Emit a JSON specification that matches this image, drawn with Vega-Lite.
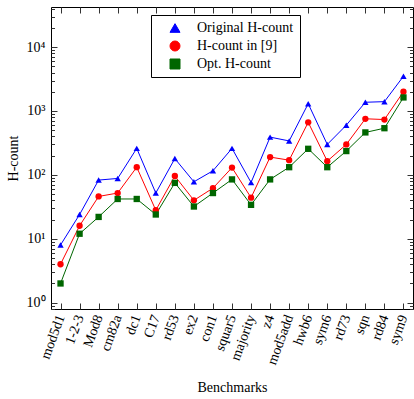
{
  "$schema": "https://vega.github.io/schema/vega-lite/v6.json",
  "width": 362,
  "height": 302,
  "autosize": {"type": "none"},
  "padding": {"left": 51, "top": 7, "right": 1, "bottom": 90},
  "background": "white",
  "config": {
    "view": {"stroke": "black", "strokeWidth": 1},
    "font": "Liberation Serif",
    "axis": {"labelFont": "Liberation Serif", "titleFont": "Liberation Serif", "labelColor": "black", "titleColor": "black", "tickColor": "#333333", "grid": false, "domain": false, "titleFontWeight": "normal", "labelFontSize": 14, "titleFontSize": 14},
    "legend": {"labelFont": "Liberation Serif", "labelFontSize": 14, "labelColor": "black"}
  },
  "data": {"values": [
    {"bench": "mod5d1", "series": "Original H-count", "value": 8},
    {"bench": "1-2-3", "series": "Original H-count", "value": 24},
    {"bench": "Mod8", "series": "Original H-count", "value": 83},
    {"bench": "cm82a", "series": "Original H-count", "value": 88},
    {"bench": "dc1", "series": "Original H-count", "value": 260},
    {"bench": "C17", "series": "Original H-count", "value": 52},
    {"bench": "rd53", "series": "Original H-count", "value": 180},
    {"bench": "ex2", "series": "Original H-count", "value": 78},
    {"bench": "con1", "series": "Original H-count", "value": 116},
    {"bench": "squar5", "series": "Original H-count", "value": 260},
    {"bench": "majority", "series": "Original H-count", "value": 76},
    {"bench": "z4", "series": "Original H-count", "value": 390},
    {"bench": "mod5add", "series": "Original H-count", "value": 340},
    {"bench": "hwb6", "series": "Original H-count", "value": 1300},
    {"bench": "sym6", "series": "Original H-count", "value": 300},
    {"bench": "rd73", "series": "Original H-count", "value": 600},
    {"bench": "sqn", "series": "Original H-count", "value": 1370},
    {"bench": "rd84", "series": "Original H-count", "value": 1400},
    {"bench": "sym9", "series": "Original H-count", "value": 3500},
    {"bench": "mod5d1", "series": "H-count in [9]", "value": 4},
    {"bench": "1-2-3", "series": "H-count in [9]", "value": 16},
    {"bench": "Mod8", "series": "H-count in [9]", "value": 46},
    {"bench": "cm82a", "series": "H-count in [9]", "value": 52},
    {"bench": "dc1", "series": "H-count in [9]", "value": 132},
    {"bench": "C17", "series": "H-count in [9]", "value": 28},
    {"bench": "rd53", "series": "H-count in [9]", "value": 96},
    {"bench": "ex2", "series": "H-count in [9]", "value": 40},
    {"bench": "con1", "series": "H-count in [9]", "value": 62},
    {"bench": "squar5", "series": "H-count in [9]", "value": 130},
    {"bench": "majority", "series": "H-count in [9]", "value": 44},
    {"bench": "z4", "series": "H-count in [9]", "value": 190},
    {"bench": "mod5add", "series": "H-count in [9]", "value": 170},
    {"bench": "hwb6", "series": "H-count in [9]", "value": 665},
    {"bench": "sym6", "series": "H-count in [9]", "value": 164},
    {"bench": "rd73", "series": "H-count in [9]", "value": 300},
    {"bench": "sqn", "series": "H-count in [9]", "value": 755},
    {"bench": "rd84", "series": "H-count in [9]", "value": 735},
    {"bench": "sym9", "series": "H-count in [9]", "value": 2000},
    {"bench": "mod5d1", "series": "Opt. H-count", "value": 2},
    {"bench": "1-2-3", "series": "Opt. H-count", "value": 12},
    {"bench": "Mod8", "series": "Opt. H-count", "value": 22},
    {"bench": "cm82a", "series": "Opt. H-count", "value": 42},
    {"bench": "dc1", "series": "Opt. H-count", "value": 42},
    {"bench": "C17", "series": "Opt. H-count", "value": 24},
    {"bench": "rd53", "series": "Opt. H-count", "value": 75},
    {"bench": "ex2", "series": "Opt. H-count", "value": 32},
    {"bench": "con1", "series": "Opt. H-count", "value": 52},
    {"bench": "squar5", "series": "Opt. H-count", "value": 85},
    {"bench": "majority", "series": "Opt. H-count", "value": 34},
    {"bench": "z4", "series": "Opt. H-count", "value": 85},
    {"bench": "mod5add", "series": "Opt. H-count", "value": 132},
    {"bench": "hwb6", "series": "Opt. H-count", "value": 256},
    {"bench": "sym6", "series": "Opt. H-count", "value": 132},
    {"bench": "rd73", "series": "Opt. H-count", "value": 236},
    {"bench": "sqn", "series": "Opt. H-count", "value": 462},
    {"bench": "rd84", "series": "Opt. H-count", "value": 538},
    {"bench": "sym9", "series": "Opt. H-count", "value": 1630}
  ]},
  "resolve": {"scale": {"x": "independent", "y": "independent"}, "axis": {"x": "independent", "y": "independent"}},
  "layer": [
    {
      "mark": {"type": "line", "strokeWidth": 1},
      "encoding": {
        "x": {"field": "bench", "type": "nominal", "sort": null,
          "scale": {"type": "point", "padding": 0.5, "domain": ["mod5d1","1-2-3","Mod8","cm82a","dc1","C17","rd53","ex2","con1","squar5","majority","z4","mod5add","hwb6","sym6","rd73","sqn","rd84","sym9"]},
          "axis": {"orient": "bottom", "title": "Benchmarks", "tickSize": -6, "labelAngle": -70, "labelAlign": "right", "labelBaseline": "middle", "labelPadding": 12, "titlePadding": 14, "labelOverlap": false}},
        "y": {"field": "value", "type": "quantitative",
          "scale": {"type": "log", "domain": [0.797, 42400], "nice": false, "zero": false},
          "axis": {"orient": "left", "title": "H-count", "titlePadding": 6,
            "values": [0.8,0.9,1,2,3,4,5,6,7,8,9,10,20,30,40,50,60,70,80,90,100,200,300,400,500,600,700,800,900,1000,2000,3000,4000,5000,6000,7000,8000,9000,10000,20000,30000,40000],
            "labelExpr": "indexof([1,10,100,1000,10000], datum.value) >= 0 ? '10' + ['⁰','¹','²','³','⁴'][round(log(datum.value)/LN10)] : ''",
            "tickSize": {"condition": {"test": "indexof([1,10,100,1000,10000], datum.value) >= 0", "value": -6}, "value": -3.5},
            "labelPadding": 12, "labelOverlap": false, "labelFlush": false}},
        "color": {"field": "series", "type": "nominal", "sort": null,
          "scale": {"domain": ["Original H-count", "H-count in [9]", "Opt. H-count"], "range": ["#0000ff", "#ff0000", "#006600"]},
          "legend": {"orient": "none", "legendX": 100, "legendY": 8, "title": null, "padding": 6,
            "strokeColor": "black", "fillColor": "white", "cornerRadius": 0,
            "labelFont": "Liberation Serif", "labelFontSize": 14, "labelColor": "black",
            "symbolSize": 100, "symbolOffset": 11, "labelAlign": "left", "labelOffset": 15, "rowPadding": 4,
            "encode": {"symbols": {"update": {
              "shape": {"signal": "datum.value === 'Original H-count' ? 'M-3.1,0H3.1M0,-0.7L0.66,0.48L-0.66,0.48Z' : datum.value === 'H-count in [9]' ? 'M-3.1,0H3.1M-0.65,0A0.65,0.65,0,1,1,0.65,0A0.65,0.65,0,1,1,-0.65,0Z' : 'M-3.1,0H3.1M-0.6,-0.6H0.6V0.6H-0.6Z'"},
              "fill": {"scale": "color", "field": "value"},
              "stroke": {"scale": "color", "field": "value"},
              "strokeWidth": {"value": 1},
              "opacity": {"value": 1}
            }}}}},
        "detail": {"field": "series"}
      }
    },
    {
      "mark": {"type": "point", "filled": true, "opacity": 1, "size": 40},
      "encoding": {
        "x": {"field": "bench", "type": "nominal", "sort": null,
          "scale": {"type": "point", "padding": 0.5, "domain": ["mod5d1","1-2-3","Mod8","cm82a","dc1","C17","rd53","ex2","con1","squar5","majority","z4","mod5add","hwb6","sym6","rd73","sqn","rd84","sym9"]},
          "axis": {"orient": "top", "title": null, "labels": false, "tickSize": -6}},
        "y": {"field": "value", "type": "quantitative",
          "scale": {"type": "log", "domain": [0.797, 42400], "nice": false, "zero": false},
          "axis": {"orient": "right", "title": null, "labels": false,
            "values": [0.8,0.9,1,2,3,4,5,6,7,8,9,10,20,30,40,50,60,70,80,90,100,200,300,400,500,600,700,800,900,1000,2000,3000,4000,5000,6000,7000,8000,9000,10000,20000,30000,40000],
            "tickSize": {"condition": {"test": "indexof([1,10,100,1000,10000], datum.value) >= 0", "value": -6}, "value": -3.5}}},
        "color": {"field": "series", "type": "nominal", "sort": null,
          "scale": {"domain": ["Original H-count", "H-count in [9]", "Opt. H-count"], "range": ["#0000ff", "#ff0000", "#006600"]},
          "legend": {"orient": "none", "legendX": 100, "legendY": 8, "title": null, "padding": 6,
            "strokeColor": "black", "fillColor": "white", "cornerRadius": 0,
            "labelFont": "Liberation Serif", "labelFontSize": 14, "labelColor": "black",
            "symbolSize": 100, "symbolOffset": 11, "labelAlign": "left", "labelOffset": 15, "rowPadding": 4,
            "encode": {"symbols": {"update": {
              "shape": {"signal": "datum.value === 'Original H-count' ? 'M-3.1,0H3.1M0,-0.7L0.66,0.48L-0.66,0.48Z' : datum.value === 'H-count in [9]' ? 'M-3.1,0H3.1M-0.65,0A0.65,0.65,0,1,1,0.65,0A0.65,0.65,0,1,1,-0.65,0Z' : 'M-3.1,0H3.1M-0.6,-0.6H0.6V0.6H-0.6Z'"},
              "fill": {"scale": "color", "field": "value"},
              "stroke": {"scale": "color", "field": "value"},
              "strokeWidth": {"value": 1},
              "opacity": {"value": 1}
            }}}}},
        "shape": {"field": "series", "type": "nominal", "sort": null,
          "scale": {"domain": ["Original H-count", "H-count in [9]", "Opt. H-count"], "range": ["triangle-up", "circle", "square"]},
          "legend": {"orient": "none", "legendX": 100, "legendY": 8, "title": null, "padding": 6,
            "strokeColor": "black", "fillColor": "white", "cornerRadius": 0,
            "labelFont": "Liberation Serif", "labelFontSize": 14, "labelColor": "black",
            "symbolSize": 100, "symbolOffset": 11, "labelAlign": "left", "labelOffset": 15, "rowPadding": 4,
            "encode": {"symbols": {"update": {
              "shape": {"signal": "datum.value === 'Original H-count' ? 'M-3.1,0H3.1M0,-0.7L0.66,0.48L-0.66,0.48Z' : datum.value === 'H-count in [9]' ? 'M-3.1,0H3.1M-0.65,0A0.65,0.65,0,1,1,0.65,0A0.65,0.65,0,1,1,-0.65,0Z' : 'M-3.1,0H3.1M-0.6,-0.6H0.6V0.6H-0.6Z'"},
              "fill": {"scale": "color", "field": "value"},
              "stroke": {"scale": "color", "field": "value"},
              "strokeWidth": {"value": 1},
              "opacity": {"value": 1}
            }}}}}
      }
    }
  ]
}
